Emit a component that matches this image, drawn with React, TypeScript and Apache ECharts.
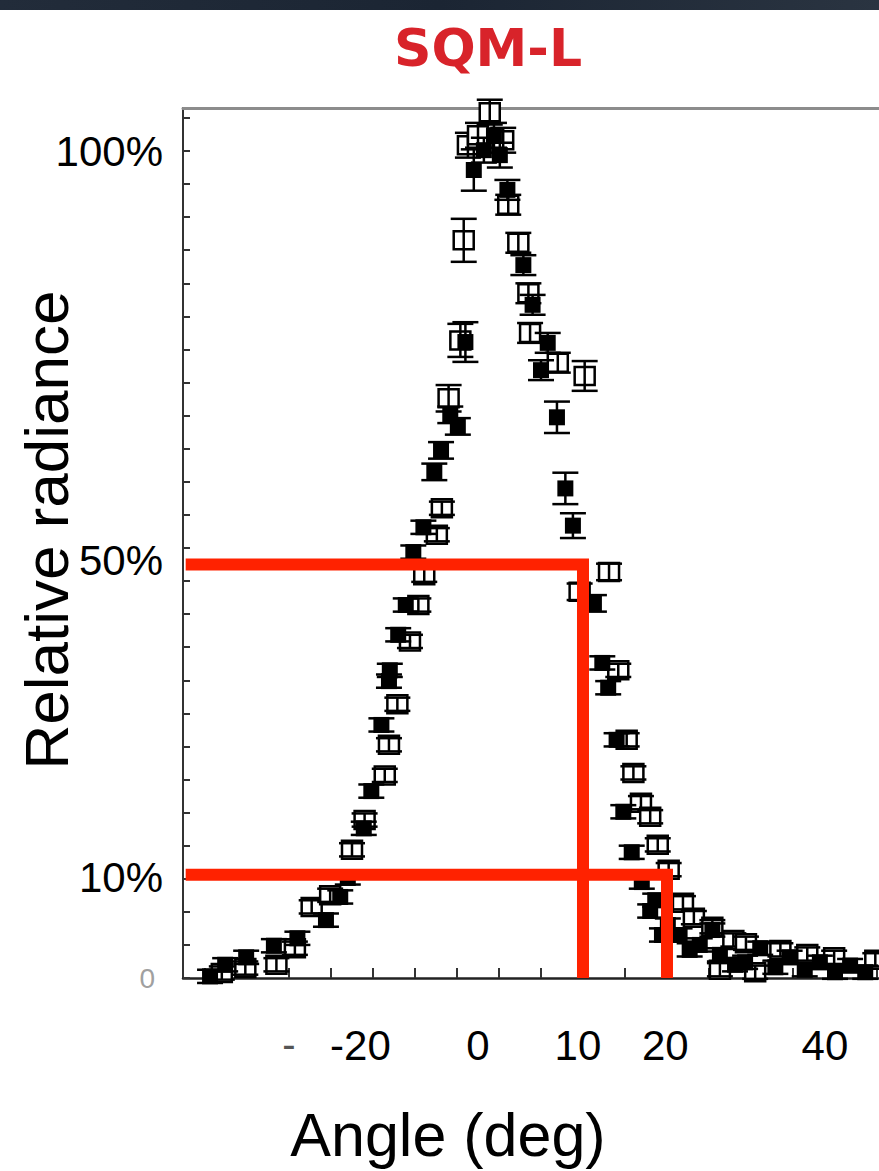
import React, { useEffect, useRef } from "react";
import * as echarts from "echarts";

// ---- data (angle in deg, relative radiance in %) ----
const filledAngle = [-34.4, -32.6, -30.1, -26.8, -24.0, -20.6, -18.9, -18.0, -16.1, -15.2, -14.0, -13.1, -13.0, -12.0, -11.1, -10.2, -9.0, -7.7, -6.9, -5.8, -4.9, -4.0, -3.0, -1.8, -0.6, 0.1, 1.0, 2.9, 4.0, 5.0, 5.8, 6.9, 7.9, 8.8, 11.3, 12.3, 13.0, 14.0, 14.8, 15.8, 17.0, 18.0, 18.6, 19.4, 20.1, 21.5, 22.7, 23.9, 25.4, 26.3, 28.1, 29.3, 31.1, 32.9, 34.6, 36.4, 38.2, 40.0, 41.8, 43.6];
const filledRadiance = [0.2, 1.6, 2.5, 3.9, 4.8, 7.0, 9.8, 12.1, 18.1, 22.6, 30.6, 35.9, 37.2, 41.5, 45.1, 51.5, 54.5, 61.2, 63.8, 68.1, 66.7, 76.9, 97.7, 100.1, 101.9, 99.5, 95.3, 86.2, 81.4, 73.5, 76.8, 67.8, 59.2, 54.7, 45.3, 38.1, 35.1, 28.8, 20.1, 15.2, 11.6, 8.1, 9.4, 5.2, 6.4, 5.2, 3.4, 4.0, 5.8, 2.8, 1.6, 1.9, 3.6, 1.3, 2.5, 1.0, 1.9, 0.7, 1.5, 0.7];
const filledError = [0.8, 0.8, 0.8, 0.8, 0.8, 0.8, 0.8, 0.8, 0.8, 0.8, 0.8, 0.8, 0.8, 0.8, 0.8, 0.8, 0.8, 1.0, 1.0, 1.0, 1.0, 2.4, 2.5, 1.5, 1.5, 1.5, 1.2, 1.2, 1.2, 1.2, 1.2, 1.9, 1.9, 1.5, 1.0, 0.8, 0.8, 0.8, 0.8, 0.8, 0.8, 0.8, 0.8, 0.8, 0.8, 0.8, 0.8, 0.8, 0.8, 0.8, 0.8, 0.8, 0.8, 0.8, 0.8, 0.8, 0.8, 0.8, 0.8, 0.8];

const openAngle = [-33.0, -30.2, -26.5, -24.3, -22.3, -20.1, -17.5, -16.0, -13.6, -13.1, -12.1, -10.6, -9.6, -8.9, -7.4, -6.8, -6.0, -4.6, -4.2, -3.7, -2.5, -1.1, 0.5, 1.1, 2.3, 3.5, 3.7, 7.0, 9.6, 10.2, 13.1, 14.2, 15.2, 16.0, 16.9, 18.0, 18.9, 20.2, 21.9, 23.2, 25.4, 26.3, 27.9, 29.4, 30.5, 33.5, 36.7, 39.9, 44.8];
const openRadiance = [0.6, 1.2, 1.6, 3.6, 8.6, 10.0, 15.5, 19.1, 24.5, 28.2, 33.1, 40.7, 45.1, 48.7, 53.6, 56.8, 70.1, 77.1, 89.2, 100.7, 101.9, 104.7, 101.3, 93.5, 88.9, 82.8, 78.0, 74.4, 46.7, 72.8, 49.1, 37.2, 28.8, 24.8, 21.2, 19.5, 16.1, 13.1, 9.1, 7.3, 6.2, 1.0, 4.6, 4.2, 0.7, 3.4, 2.9, 2.5, 2.2];
const openError = [0.8, 0.8, 0.8, 0.8, 0.8, 0.8, 0.8, 0.8, 0.8, 0.8, 0.8, 0.8, 0.8, 0.8, 0.8, 0.8, 1.6, 2.0, 2.6, 1.5, 1.5, 1.5, 1.5, 1.2, 1.2, 1.2, 1.2, 1.2, 1.0, 1.8, 1.0, 0.8, 0.8, 0.8, 0.8, 0.8, 0.8, 0.8, 0.8, 0.8, 0.8, 0.8, 0.8, 0.8, 0.8, 0.8, 0.8, 0.8, 0.8];

// tick labels as placed on the figure
const xLabelValues = [-25.0, -16.5, -2.5, 9.4, 19.8, 38.8];
const xLabelTexts = ["-", "-20", "0", "10", "20", "40"];
const yLabelValues = [0, 12.2, 50.5, 100];
const yLabelTexts = ["0", "10%", "50%", "100%"];
const xTickValues = [-35, -30, -25, -20, -15, -10, -5, 0, 5, 10, 15, 20, 25, 30, 35, 40, 45];
const yTickValues = [0, 4, 8, 12, 16, 20, 24, 28, 32, 36, 40, 44, 48, 52, 56, 60, 64, 68, 72, 76, 80, 84, 88, 92, 96, 100, 104];

// red annotation lines
const halfLevel = 50;
const halfAngle = 10;
const tenthLevel = 12.5;
const tenthAngle = 20;
const annotationStart = -37.3;

const X_MIN = -37.62;
const X_MAX = 45.24;
const Y_MIN = 0;
const Y_MAX = 105.2;

function pickLabel(values: number[], texts: string[], v: number) {
  let best = 0;
  let bd = Infinity;
  values.forEach((x, i) => {
    const d = Math.abs(x - v);
    if (d < bd) {
      bd = d;
      best = i;
    }
  });
  return texts[best];
}

function makeRender(filled: boolean) {
  return (params: any, api: any) => {
    const x = api.value(0);
    const y = api.value(1);
    const e = api.value(2);
    const c = api.coord([x, y]);
    const top = api.coord([x, y + e])[1];
    const bot = api.coord([x, y - e])[1];
    const capHalf = 13;
    const w = filled ? 16 : 20;
    const h = filled ? 16 : 18;
    const st = { stroke: "#000", lineWidth: 2.5 };
    return {
      type: "group",
      children: [
        {
          type: "rect",
          shape: { x: c[0] - w / 2, y: c[1] - h / 2, width: w, height: h },
          style: filled ? { fill: "#000" } : { fill: "#fff", stroke: "#000", lineWidth: 2.5 },
        },
        { type: "line", shape: { x1: c[0], y1: top, x2: c[0], y2: bot }, style: st },
        { type: "line", shape: { x1: c[0] - capHalf, y1: top, x2: c[0] + capHalf, y2: top }, style: st },
        { type: "line", shape: { x1: c[0] - capHalf, y1: bot, x2: c[0] + capHalf, y2: bot }, style: st },
      ],
    };
  };
}

export default function App() {
  const ref = useRef<HTMLDivElement>(null);
  useEffect(() => {
    if (!ref.current) return;
    const chart = echarts.init(ref.current, null, { renderer: "svg" });
    const filledData = filledAngle.map((a, i) => [a, filledRadiance[i], filledError[i]]);
    const openData = openAngle.map((a, i) => [a, openRadiance[i], openError[i]]);
    chart.setOption({
      animation: false,
      backgroundColor: "#ffffff",
      title: {
        text: "SQM-L",
        left: 483,
        top: 17,
        textAlign: "center",
        textStyle: { color: "#d8232a", fontSize: 52, fontWeight: "bold", fontFamily: "DejaVu Sans" },
      },
      graphic: [
        {
          type: "rect",
          left: 0,
          top: 0,
          shape: { width: 879, height: 10 },
          style: {
            fill: new echarts.graphic.LinearGradient(0, 0, 1, 0, [
              { offset: 0, color: "#222c3a" },
              { offset: 0.5, color: "#1b2533" },
              { offset: 1, color: "#2a3441" },
            ]),
          },
          z: 10,
        },
      ],
      grid: { left: 183, right: 0, top: 108, bottom: 193, containLabel: false, outerBoundsMode: "none" },
      xAxis: [
        {
          type: "value",
          min: X_MIN,
          max: X_MAX,
          position: "bottom",
          name: "Angle (deg)",
          nameLocation: "middle",
          nameGap: 126,
          nameTextStyle: { fontSize: 61, color: "#000", fontFamily: "Liberation Sans", padding: [0, 166, 0, 0] },
          axisLine: { show: true, onZero: false, lineStyle: { color: "#222", width: 2.5 } },
          axisTick: { show: true, inside: true, length: 10, customValues: xTickValues, lineStyle: { color: "#333", width: 2 } },
          axisLabel: {
            show: true,
            customValues: xLabelValues,
            margin: 46,
            fontSize: 42,
            color: "#000",
            fontFamily: "Liberation Sans",
            formatter: (v: number) => {
              const t = pickLabel(xLabelValues, xLabelTexts, v);
              return t === "-" ? "{d|-}" : t;
            },
            rich: { d: { fontSize: 40, color: "#555", fontFamily: "Liberation Sans" } },
          },
          splitLine: { show: false },
        },
        {
          type: "value",
          min: X_MIN,
          max: X_MAX,
          position: "top",
          axisLine: { show: true, onZero: false, lineStyle: { color: "#8c8c8c", width: 3 } },
          axisTick: { show: false },
          axisLabel: { show: false },
          splitLine: { show: false },
        },
      ],
      yAxis: {
        type: "value",
        min: Y_MIN,
        max: Y_MAX,
        position: "left",
        name: "Relative radiance",
        nameLocation: "middle",
        nameGap: 106,
        nameMoveOverlap: false,
        nameRotate: 90,
        nameTextStyle: { fontSize: 62, color: "#000", fontFamily: "Liberation Sans", padding: [0, 0, 0, 26] },
        axisLine: { show: true, onZero: false, lineStyle: { color: "#333", width: 2 } },
        axisTick: { show: true, inside: true, length: 7, customValues: yTickValues, lineStyle: { color: "#333", width: 2 } },
        axisLabel: {
          show: true,
          customValues: yLabelValues,
          margin: 20,
          fontSize: 42,
          color: "#000",
          fontFamily: "Liberation Sans",
          formatter: (v: number) => {
            const t = pickLabel(yLabelValues, yLabelTexts, v);
            return t === "0" ? "{z|0}" : t;
          },
          rich: { z: { fontSize: 28, color: "#a0a0a0", fontFamily: "Liberation Sans", padding: [0, 8, 0, 0] } },
        },
        splitLine: { show: false },
      },
      series: [
        {
          type: "custom",
          name: "open",
          renderItem: makeRender(false),
          data: openData,
          encode: { x: 0, y: 1 },
          clip: false,
          z: 2,
        },
        {
          type: "custom",
          name: "filled",
          renderItem: makeRender(true),
          data: filledData,
          encode: { x: 0, y: 1 },
          clip: false,
          z: 3,
        },
        {
          type: "line",
          data: [
            [annotationStart, halfLevel],
            [halfAngle, halfLevel],
            [halfAngle, Y_MIN],
          ],
          symbol: "none",
          lineStyle: { color: "#ff2200", width: 12, join: "miter", cap: "butt" },
          z: 5,
        },
        {
          type: "line",
          data: [
            [annotationStart, tenthLevel],
            [tenthAngle, tenthLevel],
            [tenthAngle, Y_MIN],
          ],
          symbol: "none",
          lineStyle: { color: "#ff2200", width: 12, join: "miter", cap: "butt" },
          z: 5,
        },
      ],
    });
    return () => chart.dispose();
  }, []);
  return (
    <div
      ref={ref}
      style={{ position: "absolute", left: 0, top: 0, width: 879, height: 1171, background: "#fff" }}
    />
  );
}
